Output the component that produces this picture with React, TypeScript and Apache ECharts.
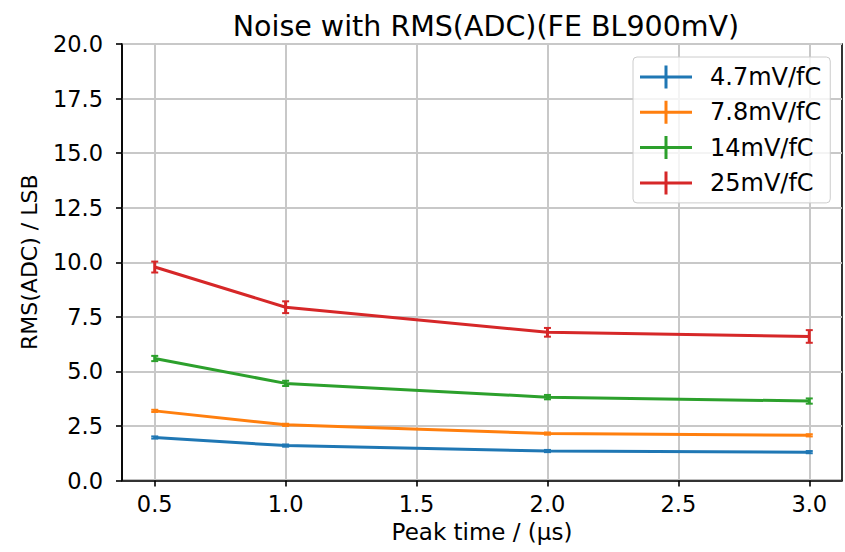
import React, { useEffect, useRef } from "react";
import * as echarts from "echarts";

const peakTimes = [0.5, 1.0, 2.0, 3.0];
const xTicks = [0.5, 1.0, 1.5, 2.0, 2.5, 3.0];
const seriesNames = ["4.7mV/fC", "7.8mV/fC", "14mV/fC", "25mV/fC"];
const seriesColors = ["#1f77b4", "#ff7f0e", "#2ca02c", "#d62728"];
const rms47 = [1.97, 1.6, 1.35, 1.3];
const rms78 = [3.19, 2.55, 2.15, 2.07];
const rms14 = [5.59, 4.45, 3.82, 3.64];
const rms25 = [9.78, 7.94, 6.79, 6.6];
const err47 = [0.05, 0.05, 0.05, 0.05];
const err78 = [0.05, 0.05, 0.05, 0.05];
const err14 = [0.12, 0.12, 0.1, 0.12];
const err25 = [0.25, 0.27, 0.2, 0.29];

const FONT = "DejaVu Sans";

export default function App() {
  const ref = useRef<HTMLDivElement>(null);
  useEffect(() => {
    if (!ref.current) return;
    const chart = echarts.init(ref.current, null, { renderer: "svg" });
    const values = [rms47, rms78, rms14, rms25];
    const errors = [err47, err78, err14, err25];
    const lineSeries: any[] = seriesNames.map((name, i) => ({
      name,
      type: "line",
      data: peakTimes.map((x, j) => [x, values[i][j]]),
      showSymbol: false,
      symbol: "none",
      lineStyle: { color: seriesColors[i], width: 3 },
      itemStyle: { color: seriesColors[i] },
      z: 3,
    }));
    const errSeries: any[] = seriesNames.map((name, i) => ({
      name: name + " err",
      type: "custom",
      data: peakTimes.map((x, j) => [x, values[i][j], errors[i][j]]),
      encode: { x: 0, y: 1 },
      z: 4,
      renderItem: (params: any, api: any) => {
        const x = api.value(0);
        const y = api.value(1);
        const e = api.value(2);
        const top = api.coord([x, y + e]);
        const bot = api.coord([x, y - e]);
        const c = seriesColors[i];
        const cw = 3.5;
        return {
          type: "group",
          children: [
            { type: "line", shape: { x1: top[0], y1: top[1], x2: bot[0], y2: bot[1] }, style: { stroke: c, lineWidth: 3 } },
            { type: "line", shape: { x1: top[0] - cw, y1: top[1], x2: top[0] + cw, y2: top[1] }, style: { stroke: c, lineWidth: 2 } },
            { type: "line", shape: { x1: bot[0] - cw, y1: bot[1], x2: bot[0] + cw, y2: bot[1] }, style: { stroke: c, lineWidth: 2 } },
          ],
        };
      },
    }));
    const icon = "path://M0,10h52v3h-52z M24.5,0h3v23h-3z";
    chart.setOption({
      animation: false,
      backgroundColor: "#fff",
      textStyle: { fontFamily: FONT },
      title: {
        text: "Noise with RMS(ADC)(FE BL900mV)",
        left: 481,
        textAlign: "center",
        top: 7,
        textStyle: { fontFamily: FONT, fontSize: 28.5, fontWeight: "normal", color: "#000" },
      },
      legend: {
        orient: "vertical",
        left: 633,
        top: 57,
        padding: [8, 9, 8, 7],
        itemGap: 11.3,
        itemWidth: 52,
        itemHeight: 23,
        backgroundColor: "rgba(255,255,255,0.8)",
        borderColor: "#cccccc",
        borderWidth: 1,
        borderRadius: 4,
        textStyle: { fontFamily: FONT, fontSize: 24, color: "#000", padding: [0, 0, 0, 13] },
        data: seriesNames.map((n, i) => ({ name: n, icon, itemStyle: { color: seriesColors[i] } })),
      },
      grid: {
        left: 122,
        right: 3,
        top: 44,
        bottom: 71.5,
        show: true,
        borderColor: "#000",
        borderWidth: 1.6,
        backgroundColor: "transparent",
      },
      xAxis: {
        type: "value",
        min: 0.375,
        max: 3.125,
        name: "Peak time / (μs)",
        nameLocation: "middle",
        nameGap: 37,
        nameTextStyle: { fontFamily: FONT, fontSize: 23, color: "#000" },
        axisLine: { show: true, lineStyle: { color: "#000", width: 1.6 } },
        axisTick: { show: true, length: 6, inside: false, customValues: xTicks, lineStyle: { color: "#000", width: 1.6 } },
        axisLabel: {
          customValues: xTicks,
          fontFamily: FONT,
          fontSize: 22.5,
          color: "#000",
          margin: 12,
          formatter: (v: number) => v.toFixed(1),
        },
        splitLine: { show: true, lineStyle: { color: "#c8c8c8", width: 2 } },
      },
      yAxis: {
        type: "value",
        min: 0,
        max: 20,
        interval: 2.5,
        name: "RMS(ADC) / LSB",
        nameLocation: "middle",
        nameGap: 82,
        nameTextStyle: { fontFamily: FONT, fontSize: 22, color: "#000" },
        axisLine: { show: true, lineStyle: { color: "#000", width: 1.6 } },
        axisTick: { show: true, length: 6, inside: false, lineStyle: { color: "#000", width: 1.6 } },
        axisLabel: {
          fontFamily: FONT,
          fontSize: 22.5,
          color: "#000",
          margin: 19,
          formatter: (v: number) => v.toFixed(1),
        },
        splitLine: { show: true, lineStyle: { color: "#c8c8c8", width: 2 } },
      },
      series: [...lineSeries, ...errSeries],
    });
    return () => chart.dispose();
  }, []);
  return (
    <div
      ref={ref}
      style={{ position: "absolute", left: 0, top: 0, width: 845, height: 552 }}
    />
  );
}
